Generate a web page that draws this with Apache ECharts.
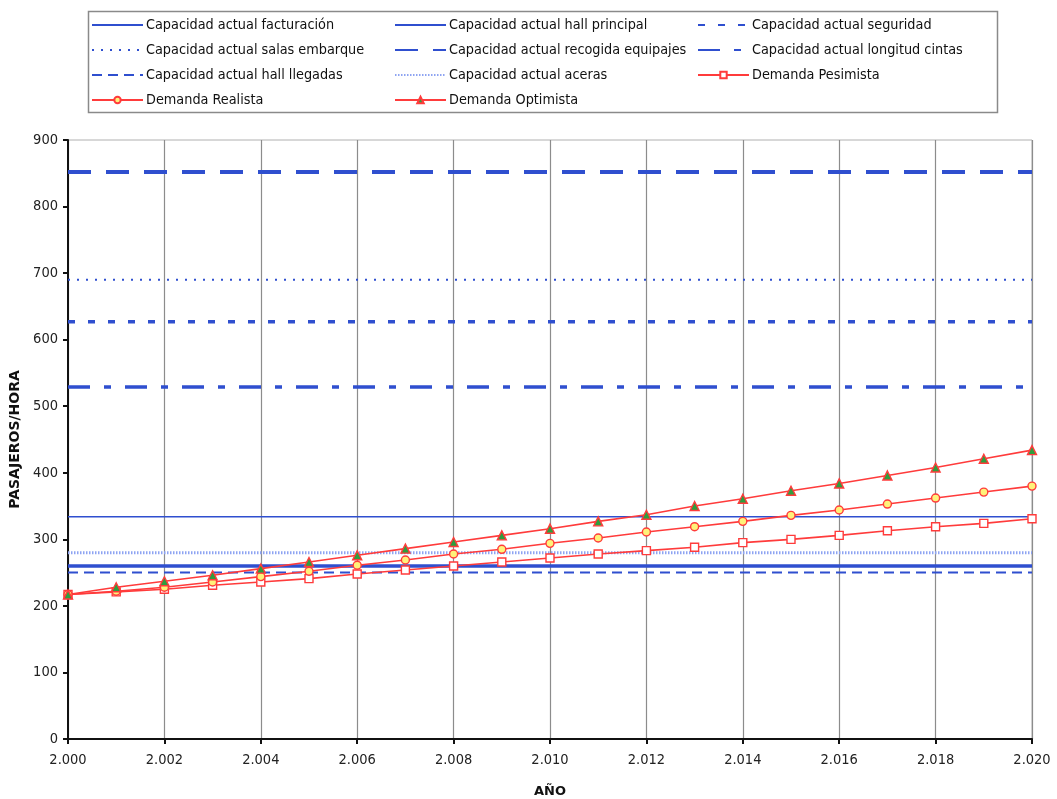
<!DOCTYPE html>
<html>
<head>
<meta charset="utf-8">
<script src="https://cdn.jsdelivr.net/npm/echarts@6/dist/echarts.min.js"></script>
<style>
  html, body { margin: 0; padding: 0; background: #fff; }
  #chart { width: 1057px; height: 799px; }
</style>
</head>
<body>
<div id="chart"></div>
<script>
// Años de la serie de demanda
const years = [2000, 2001, 2002, 2003, 2004, 2005, 2006, 2007, 2008, 2009, 2010,
               2011, 2012, 2013, 2014, 2015, 2016, 2017, 2018, 2019, 2020];

// Capacidades actuales de cada subsistema (pasajeros/hora)
const capFacturacion = 334;
const capHallPrincipal = 260;
const capSeguridad = 627;
const capSalasEmbarque = 690;
const capRecogidaEquipajes = 852;
const capLongitudCintas = 529;
const capHallLlegadas = 250;
const capAceras = 280;

// Escenarios de demanda (pasajeros/hora)
const demandaPesimista = [217, 221, 225, 231, 236, 241, 248, 254, 260, 266, 272,
                          278, 283, 288, 295, 300, 306, 313, 319, 324, 331];
const demandaRealista  = [217, 222, 228, 236, 244, 252, 261, 269, 278, 285, 294,
                          302, 311, 319, 327, 336, 344, 353, 362, 371, 380];
const demandaOptimista = [217, 228, 237, 246, 256, 266, 276, 286, 296, 306, 316,
                          327, 337, 350, 361, 373, 384, 396, 408, 421, 434];

const yTicks = [0, 100, 200, 300, 400, 500, 600, 700, 800, 900];

const BLUE = '#2f4fcf';
const LIGHT_BLUE = '#8ea4f2';
const RED = '#ff3b3b';
const FONT = '"DejaVu Sans Condensed", "DejaVu Sans", sans-serif';
const TITLE_FONT = '"DejaVu Sans", sans-serif';

function flat(value) {
  return [[years[0], value], [years[years.length - 1], value]];
}
function pairs(values) {
  return years.map((y, i) => [y, values[i]]);
}
function capLine(name, value, color, width, type) {
  return {
    name, type: 'line', data: flat(value), symbol: 'none', showSymbol: false,
    silent: true, animation: false,
    lineStyle: { color, width, type, cap: 'butt' },
    itemStyle: { color }
  };
}
function demandLine(name, values, symbol, size, fill) {
  return {
    name, type: 'line', data: pairs(values), symbol, symbolSize: size,
    showSymbol: true, animation: false, z: 5,
    lineStyle: { color: RED, width: 1.6 },
    itemStyle: { color: fill, borderColor: RED, borderWidth: 1.4 }
  };
}

const series = [
  capLine('Capacidad actual facturación', capFacturacion, BLUE, 1.5, 'solid'),
  capLine('Capacidad actual hall principal', capHallPrincipal, BLUE, 3.5, 'solid'),
  capLine('Capacidad actual seguridad', capSeguridad, BLUE, 3.5, [7, 13]),
  capLine('Capacidad actual salas embarque', capSalasEmbarque, BLUE, 2, [2, 7]),
  capLine('Capacidad actual recogida equipajes', capRecogidaEquipajes, BLUE, 4, [23, 15]),
  capLine('Capacidad actual longitud cintas', capLongitudCintas, BLUE, 3.5, [22, 14, 7, 14]),
  capLine('Capacidad actual hall llegadas', capHallLlegadas, BLUE, 2, [10, 6]),
  capLine('Capacidad actual aceras', capAceras, LIGHT_BLUE, 3, [1.5, 1.5]),
  demandLine('Demanda Pesimista', demandaPesimista, 'rect', 8, '#ffffff'),
  demandLine('Demanda Realista', demandaRealista, 'circle', 8, '#fff27a'),
  demandLine('Demanda Optimista', demandaOptimista, 'triangle', 9, '#2e9e3e')
];

// Las capacidades se muestran en la leyenda solo con su trazo
function legendItem(name) {
  return name.startsWith('Demanda') ? { name } : { name, itemStyle: { opacity: 0 } };
}
function legendColumn(left, names) {
  return {
    orient: 'vertical', left, top: 17,
    itemWidth: 51, itemHeight: 8, itemGap: 9,
    textStyle: { fontFamily: FONT, fontSize: 14.3, lineHeight: 16, color: '#111',
                 padding: [0, 0, 0, -2] },
    data: names.map(legendItem), selectedMode: false, padding: 0
  };
}

const chart = echarts.init(document.getElementById('chart'), null, { renderer: 'canvas' });
chart.setOption({
  backgroundColor: '#ffffff',
  animation: false,
  textStyle: { fontFamily: FONT },
  graphic: [{
    type: 'rect', left: 86, top: 9,
    shape: { width: 909, height: 101 },
    style: { fill: 'none', stroke: '#8a8a8a', lineWidth: 1.5 }
  }],
  legend: [
    legendColumn(91, ['Capacidad actual facturación', 'Capacidad actual salas embarque',
                      'Capacidad actual hall llegadas', 'Demanda Realista']),
    legendColumn(394, ['Capacidad actual hall principal', 'Capacidad actual recogida equipajes',
                       'Capacidad actual aceras', 'Demanda Optimista']),
    legendColumn(697, ['Capacidad actual seguridad', 'Capacidad actual longitud cintas',
                       'Demanda Pesimista'])
  ],
  grid: {
    left: 68, right: 25, top: 140, bottom: 60,
    show: true, borderColor: '#b0b0b0', borderWidth: 1,
    containLabel: false, outerBoundsMode: 'none'
  },
  xAxis: {
    type: 'value', min: 2000, max: 2020, interval: 2,
    name: 'AÑO', nameLocation: 'middle', nameGap: 46,
    nameTextStyle: { fontFamily: TITLE_FONT, fontSize: 13, fontWeight: 'bold', color: '#111' },
    axisLine: { lineStyle: { color: '#111', width: 2 } },
    axisTick: { show: true, length: 5, lineStyle: { color: '#111', width: 2 } },
    axisLabel: {
      fontFamily: FONT, fontSize: 14.5, color: '#222', margin: 14,
      formatter: v => String(v).replace(/(\d)(\d{3})$/, '$1.$2')
    },
    splitLine: { show: true, lineStyle: { color: '#8c8c8c', width: 1.2 } }
  },
  yAxis: {
    type: 'value', min: yTicks[0], max: yTicks[yTicks.length - 1], interval: 100,
    name: 'PASAJEROS/HORA', nameLocation: 'middle', nameGap: 42, nameRotate: 90,
    nameTextStyle: { fontFamily: TITLE_FONT, fontSize: 14, fontWeight: 'bold', color: '#111' },
    axisLine: { show: true, lineStyle: { color: '#111', width: 2 } },
    axisTick: { show: true, length: 5, lineStyle: { color: '#111', width: 2 } },
    axisLabel: { fontFamily: FONT, fontSize: 14.5, color: '#222', margin: 10 },
    splitLine: { show: false }
  },
  series
});
</script>
</body>
</html>
